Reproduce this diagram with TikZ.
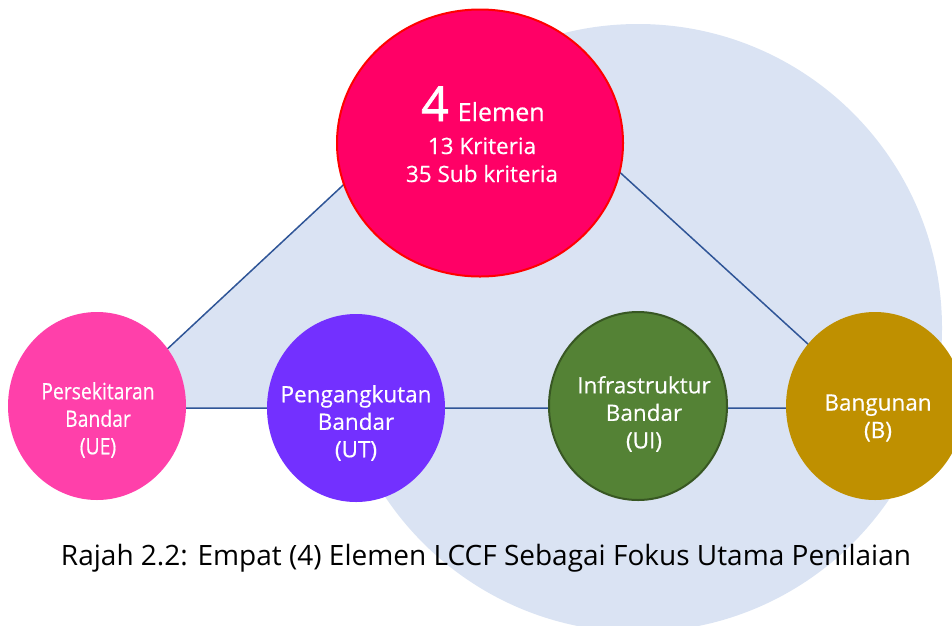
\documentclass[tikz,border=0pt]{standalone}
\usepackage{fontspec}
\setmainfont{Open Sans}
\newfontfamily\labelfont{Open Sans}[FakeBold=0.4]
\newfontfamily\narrowlabelfont{Open Sans}[FakeBold=0.4, FakeStretch=0.86]
\newfontfamily\heavyfont{Open Sans}[FakeBold=1.6]
\usetikzlibrary{shapes.geometric}
\definecolor{bgblue}{HTML}{DAE3F3}
\definecolor{edgeblue}{HTML}{2F5597}
\definecolor{topfill}{HTML}{FF0066}
\definecolor{uefill}{HTML}{FF40AA}
\definecolor{utfill}{HTML}{7330FF}
\definecolor{uifill}{HTML}{548235}
\definecolor{uiedge}{HTML}{385723}
\definecolor{bfill}{HTML}{BF9000}

\begin{document}
\begin{tikzpicture}[x=1pt,y=-1pt,
  blob/.style={ellipse, inner sep=0pt, minimum width=178pt, minimum height=188pt},
  blobtext/.style={text=white, align=center, inner sep=0pt, font=\labelfont\fontsize{22.5}{27.5}\selectfont},
  coretext/.style={text=white, anchor=base, inner sep=0pt},
  ]
\useasboundingbox (0,0) rectangle (952,625);
\clip (0,0) rectangle (952,625);

% large pale backdrop disc
\fill[bgblue] (638,328) circle (304pt);

% triangle joining the elements
\coordinate (apex) at (487,51);
\coordinate (baseL) at (104,408);
\coordinate (baseR) at (878,408);
\filldraw[fill=bgblue, draw=edgeblue, line width=1.5pt] (baseL) -- (apex) -- (baseR) -- cycle;

% element discs
\node[blob, fill=topfill, draw=red, line width=2pt, minimum width=286pt, minimum height=267pt] (core) at (480,143) {};
\node[blob, fill=uefill] (ue) at (97,406) {};
\node[blob, fill=utfill] (ut) at (356,408) {};
\node[blob, fill=uifill, draw=uiedge, line width=2pt] (ui) at (638,406) {};
\node[blob, fill=bfill] (b) at (875,406) {};

% labels of the central disc
\node[coretext] (elemen) at (483,121) {{\heavyfont\fontsize{48}{48}\selectfont 4}\hspace{9pt}{\labelfont\fontsize{25}{25}\selectfont Elemen}};
\node[coretext, font=\labelfont\fontsize{22.5}{23}\selectfont] (kriteria) at (482,154) {13 Kriteria};
\node[coretext, font=\labelfont\fontsize{22.5}{23}\selectfont] (subkriteria) at (482,182) {35 Sub kriteria};

% labels of the element discs
\node[blobtext, font=\narrowlabelfont\fontsize{22.5}{27.5}\selectfont] (uetext) at (98,420) {Persekitaran\\Bandar\\(UE)};
\node[blobtext] (uttext) at (356,423) {Pengangkutan\\Bandar\\(UT)};
\node[blobtext] (uitext) at (644,414) {Infrastruktur\\Bandar\\(UI)};
\node[blobtext] (btext) at (878,418) {Bangunan\\(B)};

% caption
\node[anchor=base, inner sep=0pt, font=\fontsize{28}{32}\selectfont] (caption) at (486,565) {Rajah 2.2: Empat (4) Elemen LCCF Sebagai Fokus Utama Penilaian};
\end{tikzpicture}
\end{document}
